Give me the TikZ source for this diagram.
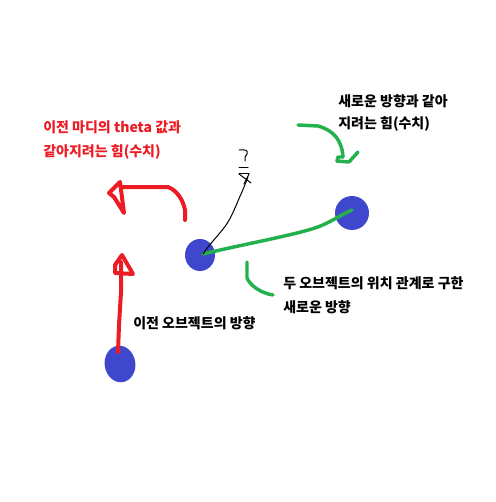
\documentclass[tikz,border=0pt]{standalone}
\usepackage{fontspec}
\newfontfamily\kr{Noto Sans CJK KR}
\usetikzlibrary{shapes.geometric}
\definecolor{pred}{HTML}{ED1C24}
\definecolor{pgreen}{HTML}{22B14C}
\definecolor{pblue}{HTML}{3F48CC}
\tikzset{
  blob/.style={ellipse, fill=pblue, draw=none, inner sep=0pt},
  lbl/.style={anchor=base west, inner sep=0pt, font=\kr\bfseries\fontsize{10.5}{12}\selectfont},
  redstroke/.style={draw=pred, line width=3pt, line cap=round, line join=round},
  greenstroke/.style={draw=pgreen, line width=2.6pt, line cap=round, line join=round},
  blackstroke/.style={draw=black, line width=0.75pt, line cap=round, line join=round}
}
\begin{document}
\begin{tikzpicture}[x=0.75pt,y=-0.75pt]
\fill[white] (0,0) rectangle (495,502);
\useasboundingbox (0,0) rectangle (495,502);

% blobs
\node[blob, minimum width=22.5pt, minimum height=24pt] (b1) at (200,255) {};
\node[blob, minimum width=25.5pt, minimum height=25.5pt] (b2) at (352,213) {};
\fill[pblue] (360,224) circle (3.5);
\node[blob, minimum width=23pt, minimum height=27.5pt, rotate=8] (b3) at (120,364) {};

% texts
\node[lbl, text=pred] (t1) at (43,133) {이전 마디의 theta 값과};
\node[lbl, text=pred] (t2) at (43,157) {같아지려는 힘(수치)};
\node[lbl] (t3) at (338,107) {새로운 방향과 같아};
\node[lbl] (t4) at (338,129) {지려는 힘(수치)};
\node[lbl] (t5) at (133,328) {이전 오브젝트의 방향};
\node[lbl] (t6) at (283,288) {두 오브젝트의 위치 관계로 구한};
\node[lbl] (t7) at (283,312) {새로운 방향};

% coordinates
\coordinate (b1c) at (203,254);
\coordinate (b2c) at (352,210);
\coordinate (b3c) at (118,352);
\coordinate (redtip) at (121,262);
\coordinate (curvestart) at (185,220);
\coordinate (curveend) at (123,187);
\coordinate (blacktip) at (248,177);
\coordinate (g1s) at (298,125);
\coordinate (g1e) at (343,157);
\coordinate (g2s) at (247,262);
\coordinate (g2e) at (273,295);

% red straight arrow
\draw[redstroke] (b3c) -- (119,325) -- (121,292) -- (redtip);
\draw[redstroke] (122,255) -- (115,265) -- (115,273) -- (133,274) -- cycle;

% red curved arrow
\draw[redstroke] (curvestart) -- (185,210) .. controls (183,200) and (178,193) .. (172,189) -- (168,187) -- (curveend);
\draw[redstroke] (120,182) -- (109,193) -- (114,197) -- (124,213) -- cycle;

% green line between blobs
\draw[greenstroke] (b1c) .. controls (240,245) and (290,236) .. (315,228) .. controls (330,223) and (342,214) .. (b2c);

% green arrow top right
\draw[greenstroke] (g1s) -- (318,126) .. controls (333,130) and (342,140) .. (g1e);
\draw[greenstroke] (g1e) -- (338,157) -- (337,161) -- (349,162) -- (358,152);

% green curve near bottom text
\draw[greenstroke] (g2s) -- (247,278) .. controls (250,285) and (260,293) .. (g2e);

% black line with question mark
\draw[blackstroke] (b1c) .. controls (210,243) and (222,232) .. (228,222) .. controls (234,212) and (238,200) .. (242,192) -- (blacktip);
\draw[blackstroke] (239,174) -- (249,174);
\draw[blackstroke] (239,174) -- (251,183);
\draw[blackstroke] (249,174) -- (244,184);
\draw[blackstroke] (239,168) -- (248,168);
\draw[blackstroke] (239,150) -- (244,150) .. controls (247,150) and (248,152) .. (247,154) -- (245,157) -- (245,161);
\end{tikzpicture}
\end{document}
